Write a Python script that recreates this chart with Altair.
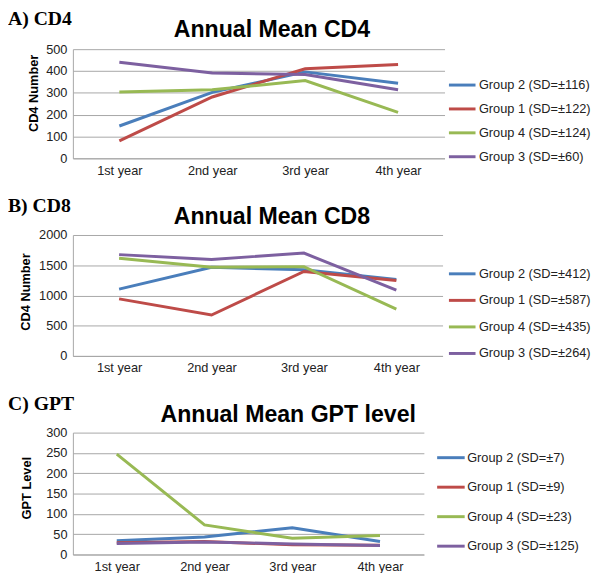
import altair as alt
import pandas as pd

years = ["1st year", "2nd year", "3rd year", "4th year"]
group_colors = ["#4A7EBB", "#BE4B48", "#98B954", "#7D60A0"]

cd4_groups = ["Group 2 (SD=±116)", "Group 1 (SD=±122)", "Group 4 (SD=±124)", "Group 3 (SD=±60)"]
cd4_group2 = [148, 302, 396, 344]
cd4_group1 = [80, 281, 410, 430]
cd4_group4 = [304, 314, 356, 210]
cd4_group3 = [440, 391, 384, 314]

cd8_groups = ["Group 2 (SD=±412)", "Group 1 (SD=±587)", "Group 4 (SD=±435)", "Group 3 (SD=±264)"]
cd8_group2 = [1104, 1467, 1424, 1264]
cd8_group1 = [944, 677, 1397, 1248]
cd8_group4 = [1616, 1467, 1477, 773]
cd8_group3 = [1675, 1595, 1701, 1088]

gpt_groups = ["Group 2 (SD=±7)", "Group 1 (SD=±9)", "Group 4 (SD=±23)", "Group 3 (SD=±125)"]
gpt_group2 = [34, 43, 66, 32]
gpt_group1 = [29, 32, 24, 23]
gpt_group4 = [247, 73, 40, 47]
gpt_group3 = [27, 31, 26, 22]

cd4_ticks = [0, 100, 200, 300, 400, 500]
cd8_ticks = [0, 500, 1000, 1500, 2000]
gpt_ticks = [0, 50, 100, 150, 200, 250, 300]

SANS = "Liberation Sans"
SERIF = "Liberation Serif"
GRID = "#A6A6A6"


def table(groups, series):
    rows = []
    for g, vals in zip(groups, series):
        for yr, v in zip(years, vals):
            rows.append({"year": yr, "value": v, "group": g})
    return pd.DataFrame(rows)


def panel(df, groups, ticks, label, heading, ytitle, w, h, heading_dx, heading_gap,
          label_dy, ytitle_pad, ytitle_shift, leg_x, leg_y, leg_row, leg_path, leg_lab_off):
    return alt.Chart(df).mark_line(strokeWidth=3).encode(
        x=alt.X("year:N", sort=years, scale=alt.Scale(padding=0.5),
                axis=alt.Axis(title=heading, titleX=w / 2 + heading_dx, titleY=-(h + heading_gap),
                              titleAlign="center", titleBaseline="alphabetic", titleFont=SANS,
                              titleFontSize=23.5, titleFontWeight="bold", titleColor="#000000",
                              labelAngle=0, labelFont=SANS, labelFontSize=13, labelColor="#222222",
                              labelPadding=6, ticks=False, tickSize=0, domainColor=GRID, grid=False)),
        y=alt.Y("value:Q", scale=alt.Scale(domain=[ticks[0], ticks[-1]], nice=False),
                axis=alt.Axis(values=ticks, title=ytitle, titleFont=SANS, titleFontSize=13,
                              titleFontWeight="bold", titleColor="#000000", titlePadding=ytitle_pad,
                              titleY=h / 2 - ytitle_shift,
                              labelFont=SANS, labelFontSize=13, labelColor="#222222", labelPadding=6,
                              ticks=False, tickSize=0, domainColor=GRID, gridColor=GRID, format="d")),
        color=alt.Color("group:N", sort=groups,
                        scale=alt.Scale(domain=groups, range=group_colors),
                        legend=alt.Legend(title=None, orient="none", legendX=leg_x, legendY=leg_y,
                                          symbolType=leg_path, symbolSize=256, symbolStrokeWidth=3,
                                          rowPadding=leg_row, labelOffset=leg_lab_off,
                                          labelFont=SANS, labelFontSize=13, labelColor="#222222",
                                          padding=0, labelLimit=200)),
    ).properties(
        width=w, height=h,
        title=alt.Title(label, anchor="start", frame="group", dx=-66, dy=label_dy, offset=0,
                        baseline="alphabetic", font=SERIF, fontSize=20, fontWeight="bold",
                        color="#000000"),
    )


pA = panel(table(cd4_groups, [cd4_group2, cd4_group1, cd4_group4, cd4_group3]), cd4_groups, cd4_ticks,
           "A) CD4", "Annual Mean CD4", "CD4 Number", 378, 111, 13, 13,
           27.5, 5, 11, 386.5, 27, 7.3, "M-1.69,0H1.69", 7.5)
pB = panel(table(cd8_groups, [cd8_group2, cd8_group1, cd8_group4, cd8_group3]), cd8_groups, cd8_ticks,
           "B) CD8", "Annual Mean CD8", "CD4 Number", 376, 123, 14, 11.4,
           27.5, 6, 4, 386.5, 30, 10, "M-1.69,0H1.69", 7.5)
pC = panel(table(gpt_groups, [gpt_group2, gpt_group1, gpt_group4, gpt_group3]), gpt_groups, gpt_ticks,
           "C) GPT", "Annual Mean GPT level", "GPT Level", 357, 124, 40, 11,
           27.5, 12, 6, 375, 16, 13, "M-1.75,0H1.75", 7)

chart = alt.vconcat(pA, pB, pC, spacing=20).resolve_scale(color="independent").properties(
    padding={"top": -4, "left": 0, "right": 0, "bottom": 0}
).configure_view(stroke=None)

chart.save("out.html", embed_options={"renderer": "svg", "actions": False})
